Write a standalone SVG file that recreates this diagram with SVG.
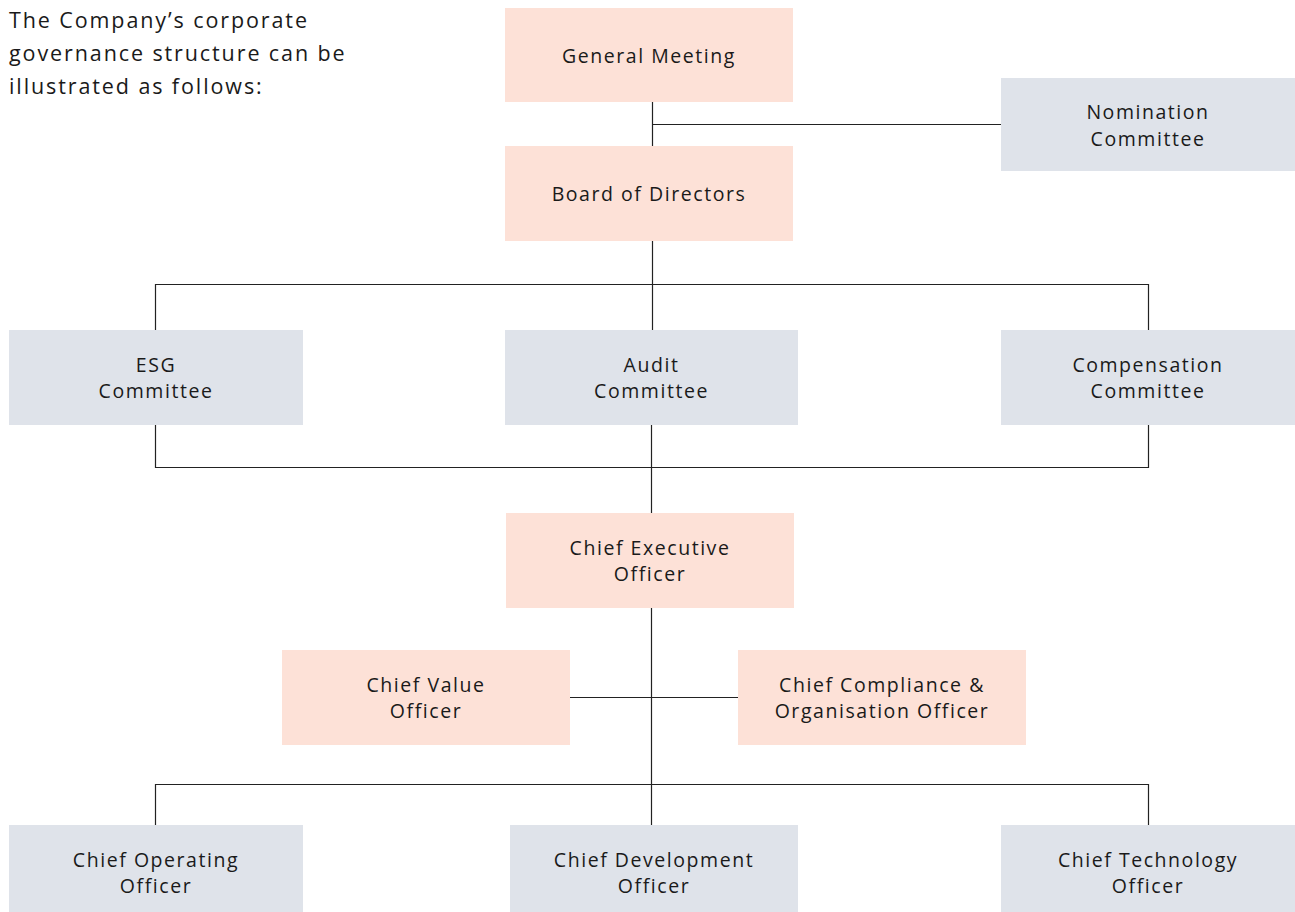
<svg xmlns="http://www.w3.org/2000/svg" width="1295" height="912" viewBox="0 0 1295 912">
<style>
.p{fill:#fde1d7}
.g{fill:#dfe3ea}
text{font-family:"Open Sans","Liberation Sans",sans-serif;font-size:19.5px;fill:#1a1a1a;letter-spacing:1.55px}
.i{font-size:21.5px;letter-spacing:1.9px}
.c{text-anchor:middle}
.ln{stroke:#222;stroke-width:1.2;fill:none}
</style>
<rect width="1295" height="912" fill="#ffffff"/>
<g id="intro">
<text class="i" x="9" y="28">The Company’s corporate</text>
<text class="i" x="9" y="61">governance structure can be</text>
<text class="i" x="9" y="94">illustrated as follows:</text>
</g>
<g id="connectors">
<path class="ln" d="M652.5,102 V146 M652.5,124.5 H1001"/>
<path class="ln" d="M652.5,241 V330"/>
<path class="ln" d="M155.5,330 V284.5 H1148.5 V330"/>
<path class="ln" d="M155.5,425 V467.5 H1148.5 V425"/>
<path class="ln" d="M651.5,425 V513"/>
<path class="ln" d="M651.5,608 V825 M570,697.5 H738"/>
<path class="ln" d="M155.5,825 V784.5 H1148.5 V825"/>
</g>
<g id="general-meeting"><rect class="p" x="505" y="8" width="288" height="94"/><text class="c" x="649" y="63">General Meeting</text></g>
<g id="nomination"><rect class="g" x="1001" y="78" width="294" height="93"/><text class="c" x="1148" y="119">Nomination</text><text class="c" x="1148" y="146">Committee</text></g>
<g id="board"><rect class="p" x="505" y="146" width="288" height="95"/><text class="c" x="649" y="201">Board of Directors</text></g>
<g id="esg"><rect class="g" x="9" y="330" width="294" height="95"/><text class="c" x="156" y="372">ESG</text><text class="c" x="156" y="398">Committee</text></g>
<g id="audit"><rect class="g" x="505" y="330" width="293" height="95"/><text class="c" x="651.5" y="372">Audit</text><text class="c" x="651.5" y="398">Committee</text></g>
<g id="compensation"><rect class="g" x="1001" y="330" width="294" height="95"/><text class="c" x="1148" y="372">Compensation</text><text class="c" x="1148" y="398">Committee</text></g>
<g id="ceo"><rect class="p" x="506" y="513" width="288" height="95"/><text class="c" x="650" y="555">Chief Executive</text><text class="c" x="650" y="581">Officer</text></g>
<g id="cvo"><rect class="p" x="282" y="650" width="288" height="95"/><text class="c" x="426" y="692">Chief Value</text><text class="c" x="426" y="718">Officer</text></g>
<g id="cco"><rect class="p" x="738" y="650" width="288" height="95"/><text class="c" x="882" y="692">Chief Compliance &amp;</text><text class="c" x="882" y="718">Organisation Officer</text></g>
<g id="coo"><rect class="g" x="9" y="825" width="294" height="87"/><text class="c" x="156" y="867">Chief Operating</text><text class="c" x="156" y="893">Officer</text></g>
<g id="cdo"><rect class="g" x="510" y="825" width="288" height="87"/><text class="c" x="654" y="867">Chief Development</text><text class="c" x="654" y="893">Officer</text></g>
<g id="cto"><rect class="g" x="1001" y="825" width="294" height="87"/><text class="c" x="1148" y="867">Chief Technology</text><text class="c" x="1148" y="893">Officer</text></g>
</svg>
